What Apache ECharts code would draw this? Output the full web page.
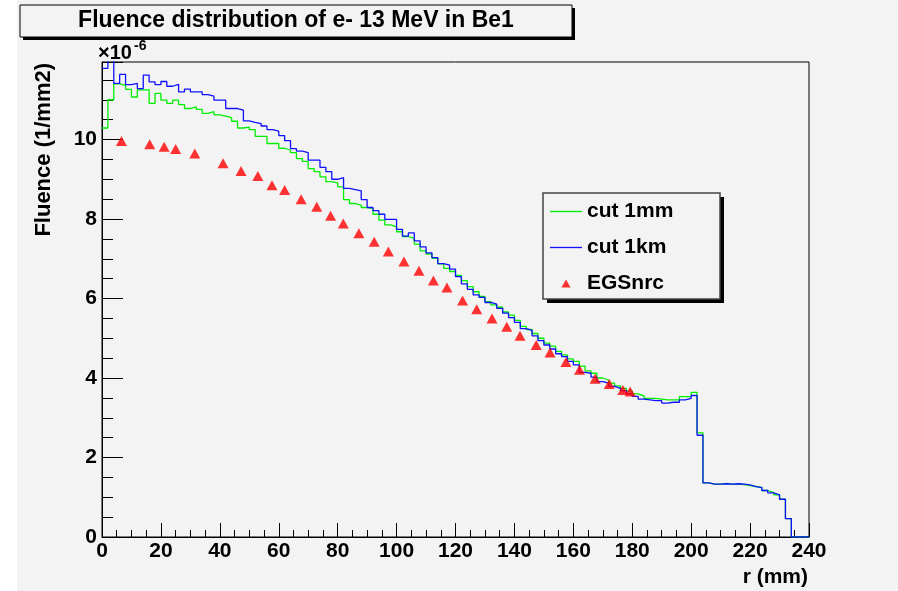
<!DOCTYPE html>
<html>
<head>
<meta charset="utf-8">
<script src="https://cdn.jsdelivr.net/npm/echarts@6/dist/echarts.min.js"></script>
<style>
html,body{margin:0;padding:0;background:#fff;}
#chart{width:898px;height:591px;background:linear-gradient(to right,#ffffff 17px,#f3f3f3 17px);}
</style>
</head>
<body>
<div id="chart"></div>
<script>
// ---- data (values in units of 1e-6 per mm2) ----
const binWidth = 2; // mm
const cut1mm = [
10.29, 11.00, 11.40, 11.36, 11.26, 11.07, 11.25, 11.25, 10.91, 11.16,
10.99, 10.91, 10.99, 10.88, 10.78, 10.82, 10.76, 10.66, 10.70, 10.62,
10.59, 10.55, 10.46, 10.29, 10.31, 10.25, 10.08, 10.08, 9.90, 9.90,
9.78, 9.73, 9.67, 9.52, 9.45, 9.27, 9.19, 9.06, 8.94, 8.91,
8.81, 8.49, 8.39, 8.35, 8.29, 8.27, 8.12, 7.97, 7.85, 7.80,
7.68, 7.56, 7.51, 7.37, 7.20, 7.12, 7.01, 6.87, 6.76, 6.68,
6.58, 6.45, 6.30, 6.17, 6.05, 5.92, 5.84, 5.78, 5.66, 5.58,
5.45, 5.30, 5.22, 5.12, 5.00, 4.88, 4.80, 4.67, 4.58, 4.48,
4.42, 4.30, 4.18, 4.12, 4.00, 3.95, 3.87, 3.80, 3.74, 3.67,
3.60, 3.55, 3.49, 3.49, 3.47, 3.45, 3.45, 3.45, 3.53, 3.53,
3.64, 2.62, 1.36, 1.33, 1.33, 1.35, 1.33, 1.33, 1.32, 1.29,
1.27, 1.25, 1.17, 1.12, 1.06, 0.95, 0.46, 0, 0, 0
];
const cut1km = [
11.79, 12.20, 11.41, 11.64, 11.38, 11.41, 11.28, 11.62, 11.45, 11.38,
11.46, 11.34, 11.39, 11.20, 11.27, 11.20, 11.20, 11.13, 11.09, 10.99,
10.99, 10.78, 10.78, 10.74, 10.47, 10.43, 10.40, 10.34, 10.25, 10.21,
10.10, 9.97, 9.77, 9.71, 9.67, 9.48, 9.48, 9.30, 9.19, 9.00,
9.04, 8.77, 8.74, 8.71, 8.49, 8.29, 8.21, 8.12, 7.99, 7.99,
7.74, 7.57, 7.65, 7.45, 7.30, 7.15, 7.03, 6.88, 6.84, 6.74,
6.55, 6.37, 6.23, 6.09, 6.03, 5.90, 5.86, 5.75, 5.63, 5.52,
5.40, 5.24, 5.20, 5.06, 4.94, 4.83, 4.73, 4.61, 4.54, 4.42,
4.33, 4.14, 4.12, 4.02, 3.91, 3.87, 3.79, 3.74, 3.68, 3.60,
3.54, 3.47, 3.45, 3.43, 3.43, 3.37, 3.39, 3.39, 3.45, 3.49,
3.56, 2.56, 1.36, 1.33, 1.33, 1.34, 1.33, 1.34, 1.33, 1.31,
1.27, 1.24, 1.17, 1.11, 1.06, 0.95, 0.46, 0, 0, 0
];
const egsR = [6.6, 16.2, 21.1, 25.0, 31.5, 41.1, 47.2, 52.9, 57.7, 62.0,
  67.6, 72.9, 77.6, 81.9, 87.2, 92.4, 97.2, 102.5, 107.6, 112.5,
  117.1, 122.4, 127.2, 132.4, 137.4, 141.9, 147.4, 152.1, 157.5, 162.1,
  167.4, 172.2, 176.8, 179.3];
const egsV = [9.96, 9.88, 9.82, 9.76, 9.65, 9.40, 9.21, 9.08, 8.85, 8.73,
  8.50, 8.31, 8.08, 7.89, 7.64, 7.43, 7.18, 6.93, 6.70, 6.45,
  6.28, 5.95, 5.73, 5.50, 5.29, 5.06, 4.83, 4.64, 4.40, 4.21,
  3.98, 3.85, 3.70, 3.66];
const seriesNames = ['cut 1mm', 'cut 1km', 'EGSnrc'];
const titleText = 'Fluence distribution of e- 13 MeV in Be1';
const xName = 'r (mm)';
const yName = 'Fluence (1/mm2)';
const yScaleBase = '×10';
const yScaleExp = '-6';

// ---- build ----
function histPoints(arr) {
  const pts = arr.map((v, i) => [i * binWidth, v]);
  pts.push([arr.length * binWidth, arr[arr.length - 1]]);
  return pts;
}
const BG = '#f3f3f3';
const FONT = 'Liberation Sans, Arial, sans-serif';
const GREEN = '#00ee00', BLUE = '#1010ff', RED = '#ff0000';
const LINE_ICON = 'path://M0,0 H32 V1.3 H0 Z';
const TRI_ICON = 'path://M4,0 L8,7 L0,7 Z';
const chart = echarts.init(document.getElementById('chart'), null, {renderer: 'canvas'});
chart.setOption({
  animation: false,
  backgroundColor: 'transparent',
  title: {
    text: titleText, left: 296, top: 9, textAlign: 'center', padding: 0,
    textStyle: {fontFamily: FONT, fontWeight: 'bold', fontSize: 23, color: '#000'}
  },
  legend: {
    orient: 'vertical', left: 543, top: 193, padding: [8, 10, 5, 7],
    itemWidth: 32, itemHeight: 8, itemGap: 15, symbolKeepAspect: true,
    data: [
      {name: seriesNames[0], icon: LINE_ICON, itemStyle: {color: GREEN}},
      {name: seriesNames[1], icon: LINE_ICON, itemStyle: {color: BLUE}},
      {name: seriesNames[2], icon: TRI_ICON, itemStyle: {color: RED}}
    ],
    textStyle: {fontFamily: FONT, fontWeight: 'bold', fontSize: 21, color: '#000'},
    selectedMode: false
  },
  grid: {left: 102, top: 62, width: 707, height: 475, show: true, borderColor: '#000', borderWidth: 1, backgroundColor: 'transparent'},
  xAxis: {
    type: 'value', min: 0, max: 240, interval: 20,
    axisLine: {lineStyle: {color: '#000', width: 1}},
    axisTick: {inside: true, length: 14, lineStyle: {color: '#000'}},
    minorTick: {show: true, splitNumber: 4, length: 7, lineStyle: {color: '#000'}},
    splitLine: {show: false},
    axisLabel: {color: '#000', fontFamily: FONT, fontWeight: 'bold', fontSize: 21, margin: 4}
  },
  yAxis: {
    type: 'value', min: 0, max: 11.95, interval: 2,
    axisLine: {show: true, lineStyle: {color: '#000', width: 1}},
    axisTick: {show: true, inside: true, length: 21, lineStyle: {color: '#000'}},
    minorTick: {show: true, splitNumber: 4, length: 11, lineStyle: {color: '#000'}},
    splitLine: {show: false},
    axisLabel: {color: '#000', fontFamily: FONT, fontWeight: 'bold', fontSize: 21, margin: 5,
      showMaxLabel: false,
      formatter: v => (Math.abs(v / 2 - Math.round(v / 2)) < 1e-6 ? String(v) : '')}
  },
  graphic: [
    {type: 'rect', shape: {x: 23, y: 8, width: 552, height: 32}, style: {fill: '#000'}, z: -2},
    {type: 'rect', shape: {x: 20, y: 5, width: 552, height: 32}, style: {fill: BG, stroke: '#000', lineWidth: 1}, z: -1},
    {type: 'rect', shape: {x: 547, y: 197, width: 177, height: 106}, style: {fill: '#000'}, z: -2},
    {type: 'rect', shape: {x: 543, y: 193, width: 177, height: 106}, style: {fill: BG, stroke: '#444', lineWidth: 1.5}, z: -1},
    {type: 'text', x: 44, y: 63, rotation: Math.PI / 2,
      style: {text: yName, fill: '#000', font: 'bold 22px ' + FONT, textAlign: 'right', textVerticalAlign: 'middle'}},
    {type: 'text', x: 808, y: 577,
      style: {text: xName, fill: '#000', font: 'bold 21px ' + FONT, textAlign: 'right', textVerticalAlign: 'middle'}},
    {type: 'text', x: 98, y: 53, z: 10,
      style: {text: yScaleBase, fill: '#000', font: 'bold 20px ' + FONT, textAlign: 'left', textVerticalAlign: 'middle'}},
    {type: 'text', x: 134, y: 46, z: 10,
      style: {text: yScaleExp, fill: '#000', font: 'bold 14px ' + FONT, textAlign: 'left', textVerticalAlign: 'middle'}}
  ],
  series: [
    {name: seriesNames[0], type: 'line', step: 'end', data: histPoints(cut1mm), symbol: 'none', showSymbol: false,
      lineStyle: {color: GREEN, width: 1.3}, itemStyle: {color: GREEN}, clip: true, z: 2},
    {name: seriesNames[1], type: 'line', step: 'end', data: histPoints(cut1km), symbol: 'none', showSymbol: false,
      lineStyle: {color: BLUE, width: 1.3}, itemStyle: {color: BLUE}, clip: true, z: 3},
    {name: seriesNames[2], type: 'scatter', data: egsR.map((r, i) => [r, egsV[i]]), symbol: 'triangle', symbolSize: [11, 10],
      itemStyle: {color: RED}, z: 4}
  ]
});
</script>
</body>
</html>
